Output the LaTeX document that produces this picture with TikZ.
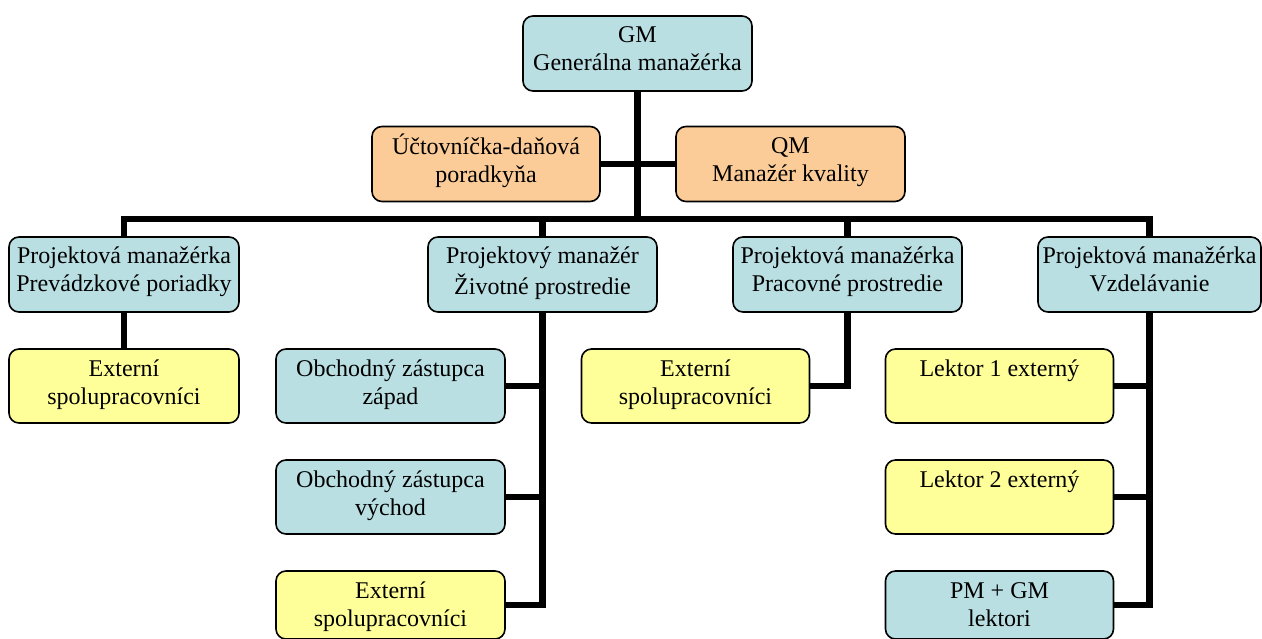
\documentclass[tikz,border=0pt]{standalone}
\usepackage{fontspec}
\setmainfont{Liberation Serif}
\definecolor{boxcyan}{RGB}{185,223,227}
\definecolor{boxpeach}{RGB}{252,204,152}
\definecolor{boxyellow}{RGB}{255,255,153}
% box content: fixed width and height, lines set from the top
\newcommand\orgtext[3]{\parbox[c][#2][t]{#1}{\vspace*{7.4pt}\centering\strut #3}}
\begin{document}
\begin{tikzpicture}[x=1pt,y=-1pt,
  orgbox/.style={draw=black, line width=1.6pt, rounded corners=10pt, inner sep=0pt,
    font=\fontsize{24}{28}\selectfont},
  cyanbox/.style={orgbox, fill=boxcyan},
  peachbox/.style={orgbox, fill=boxpeach},
  yellowbox/.style={orgbox, fill=boxyellow},
  link/.style={draw=black, line width=6.5pt, line join=miter}]
\useasboundingbox (0,0) rectangle (1262,639);

% top management
\node[cyanbox] (gm) at (637.5,53.5) {\orgtext{229pt}{75pt}{GM\\Generálna manažérka}};
\node[peachbox] (acct) at (486,164) {\orgtext{228pt}{75pt}{Účtovníčka-daňová\\poradkyňa}};
\node[peachbox] (qm) at (790.5,164) {\orgtext{229pt}{75pt}{QM\\Manažér kvality}};

% project managers
\node[cyanbox] (pa) at (124,274.5) {\orgtext{230pt}{75pt}{Projektová manažérka\\Prevádzkové poriadky}};
\node[cyanbox] (pb) at (542.5,274.5) {\orgtext{229pt}{75pt}{Projektový manažér\\Životné prostredie}};
\node[cyanbox] (pc) at (847.5,274.5) {\orgtext{229pt}{75pt}{Projektová manažérka\\Pracovné prostredie}};
\node[cyanbox] (pd) at (1149.5,274.5) {\orgtext{223pt}{75pt}{Projektová manažérka\\Vzdelávanie}};

% staff under each project manager
\node[yellowbox] (a1) at (124,386) {\orgtext{230pt}{74pt}{Externí\\spolupracovníci}};

\node[cyanbox] (b1) at (390.5,386) {\orgtext{229pt}{74pt}{Obchodný zástupca\\západ}};
\node[cyanbox] (b2) at (390.5,497) {\orgtext{229pt}{74pt}{Obchodný zástupca\\východ}};
\node[yellowbox] (b3) at (390.5,605) {\orgtext{229pt}{68pt}{Externí\\spolupracovníci}};

\node[yellowbox] (c1) at (695.5,386) {\orgtext{228pt}{74pt}{Externí\\spolupracovníci}};

\node[yellowbox] (d1) at (999.5,386) {\orgtext{228pt}{74pt}{Lektor 1 externý}};
\node[yellowbox] (d2) at (999.5,497) {\orgtext{228pt}{74pt}{Lektor 2 externý}};
\node[cyanbox] (d3) at (999.5,605) {\orgtext{228pt}{68pt}{PM + GM\\lektori}};

% connectors
\coordinate (bus) at (637.5,219);
\draw[link] (gm.south) -- (bus);
\draw[link] (acct.east) -- (qm.west);
\draw[link] (pa.north) |- (bus) -| (pd.north);
\draw[link] (pb.north) -- (pb.north |- bus);
\draw[link] (pc.north) -- (pc.north |- bus);

\draw[link] (pa.south) -- (a1.north);

\draw[link] (pb.south) |- (b3.east);
\draw[link] (b1.east) -- (b1.east -| pb.south);
\draw[link] (b2.east) -- (b2.east -| pb.south);

\draw[link] (pc.south) |- (c1.east);

\draw[link] (pd.south) |- (d3.east);
\draw[link] (d1.east) -- (d1.east -| pd.south);
\draw[link] (d2.east) -- (d2.east -| pd.south);
\end{tikzpicture}
\end{document}
